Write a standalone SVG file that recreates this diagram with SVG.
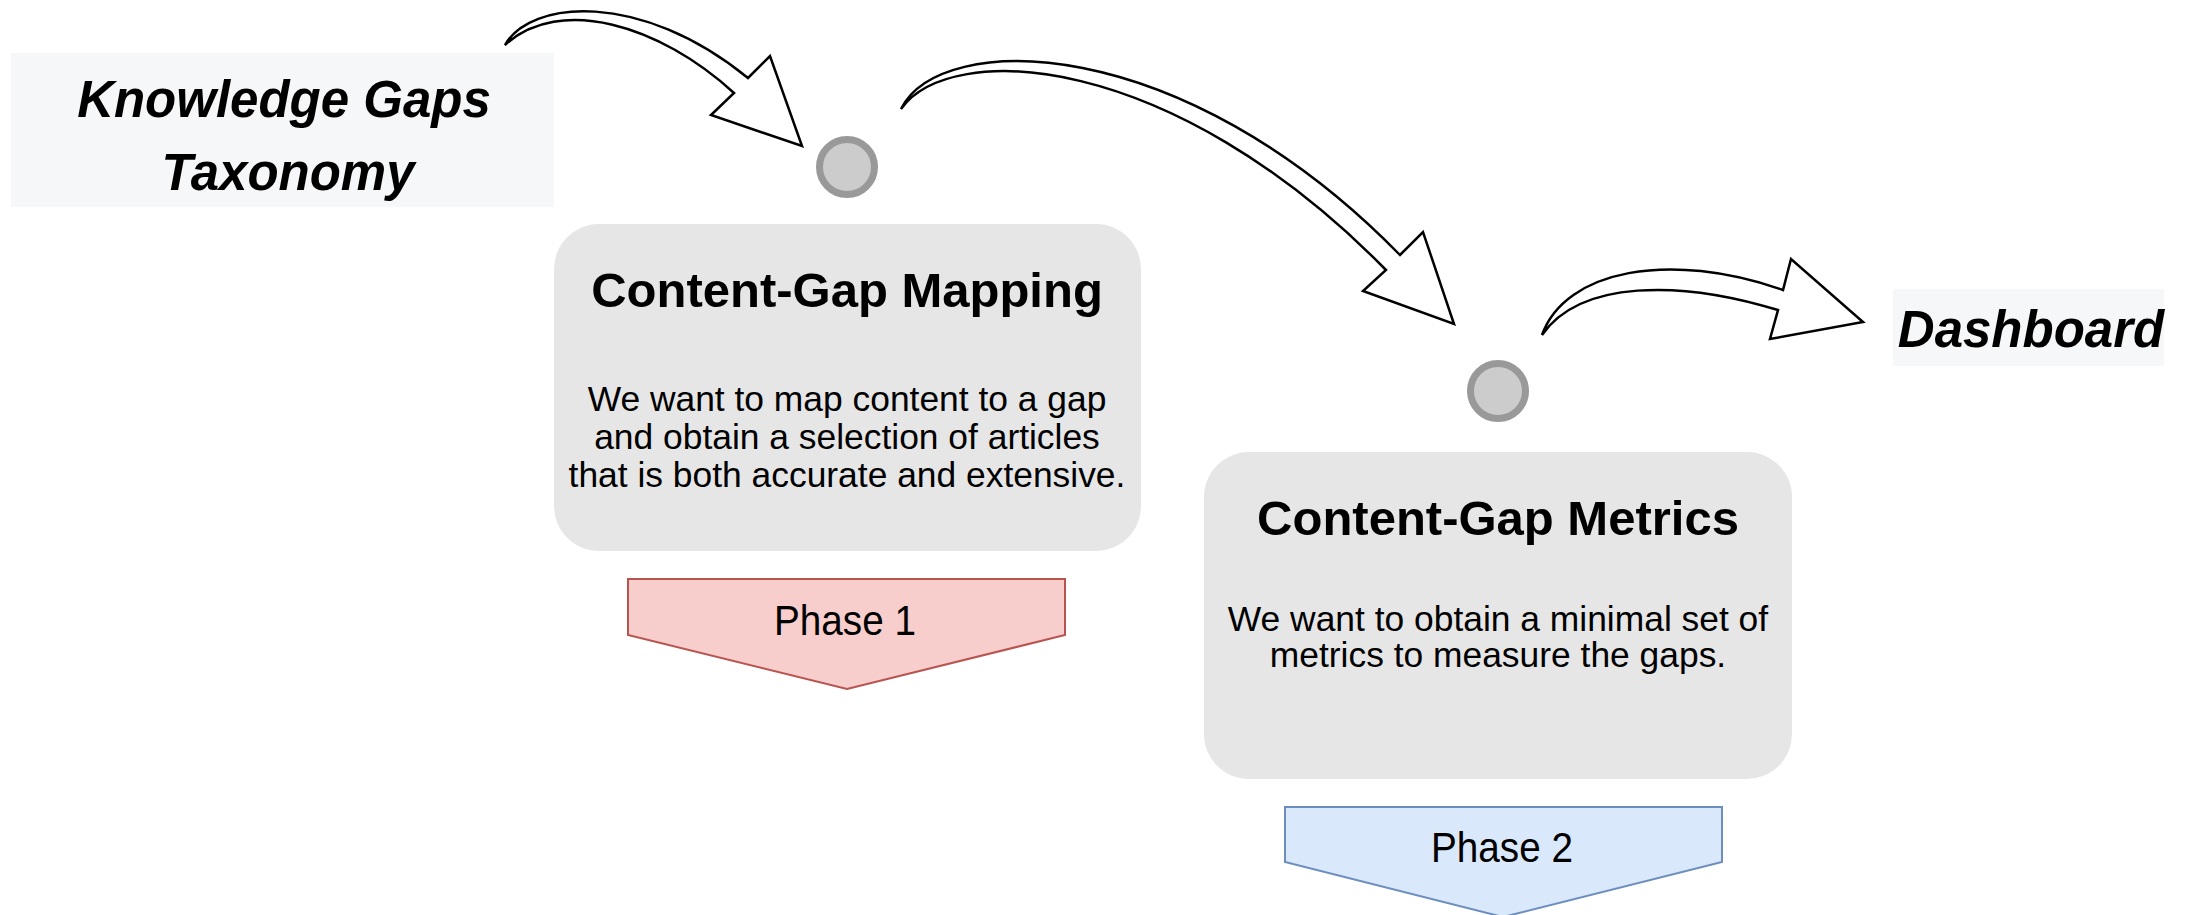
<svg xmlns="http://www.w3.org/2000/svg" width="2193" height="915" viewBox="0 0 2193 915">
<style>
.lbl{font-family:"Liberation Sans",Arial,sans-serif;font-weight:bold;font-style:italic;font-size:51px;fill:#000;text-anchor:middle}
.ttl{font-family:"Liberation Sans",Arial,sans-serif;font-weight:bold;font-size:49px;fill:#000;text-anchor:middle}
.body{font-family:"Liberation Sans",Arial,sans-serif;font-size:35.4px;fill:#000;text-anchor:middle}
.ph{font-family:"Liberation Sans",Arial,sans-serif;font-size:43px;fill:#000;text-anchor:middle}
.card{fill:#e6e6e6;stroke:none}
.soft{fill:#f6f7f9;stroke:none}
.dot{fill:#cccccc;stroke:#999999;stroke-width:7}
.arr{fill:#ffffff;stroke:#000;stroke-width:2.5;stroke-linejoin:miter}
</style>
<rect width="2193" height="915" fill="#ffffff"/>

<g id="knowledge-gaps-taxonomy">
  <rect class="soft" x="11" y="53" width="543" height="154"/>
  <text class="lbl" x="284" y="117">Knowledge Gaps</text>
  <text class="lbl" x="288" y="190">Taxonomy</text>
</g>

<g id="dot-1"><circle class="dot" cx="847" cy="167" r="27.5"/></g>
<g id="dot-2"><circle class="dot" cx="1498" cy="391" r="27.5"/></g>

<g id="content-gap-mapping">
  <rect class="card" x="554" y="224" width="587" height="327" rx="45" ry="45"/>
  <text class="ttl" x="847" y="307">Content-Gap Mapping</text>
  <text class="body" x="847" y="411">We want to map content to a gap</text>
  <text class="body" x="847" y="449">and obtain a selection of articles</text>
  <text class="body" x="847" y="487">that is both accurate and extensive.</text>
</g>

<g id="phase-1">
  <polygon points="628,579 1065,579 1065,635 847,689 628,635" fill="#f8cecc" stroke="#b85450" stroke-width="2"/>
  <text class="ph" x="845" y="635" textLength="142" lengthAdjust="spacingAndGlyphs">Phase 1</text>
</g>

<g id="content-gap-metrics">
  <rect class="card" x="1204" y="452" width="588" height="327" rx="45" ry="45"/>
  <text class="ttl" x="1498" y="535">Content-Gap Metrics</text>
  <text class="body" x="1498" y="631">We want to obtain a minimal set of</text>
  <text class="body" x="1498" y="667">metrics to measure the gaps.</text>
</g>

<g id="phase-2">
  <polygon points="1285,807 1722,807 1722,862 1503,917 1285,862" fill="#dae8fc" stroke="#6c8ebf" stroke-width="2"/>
  <text class="ph" x="1502" y="862" textLength="142" lengthAdjust="spacingAndGlyphs">Phase 2</text>
</g>

<g id="dashboard">
  <rect class="soft" x="1893" y="289" width="271" height="77"/>
  <text class="lbl" x="2031" y="347">Dashboard</text>
</g>

<g id="connectors">
  <path class="arr" d="M505,45 C530,0 640,-10 748,78 L770,56 L802,146 L711,115 L734,93 C660,25 560,-5 505,45 Z"/>
  <path class="arr" d="M901,109 C940,30 1180,30 1400,255 L1423,232 L1454,324 L1363,291 L1386,270 C1170,50 950,40 901,109 Z"/>
  <path class="arr" d="M1542,335 C1565,270 1670,250 1783,290 L1791,259 L1863,322 L1770,339 L1778,310 C1680,280 1580,280 1542,335 Z"/>
</g>
</svg>
